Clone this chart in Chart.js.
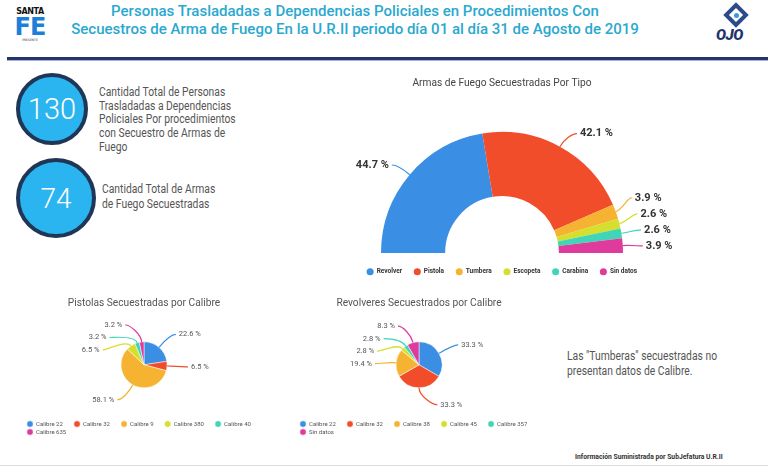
<!DOCTYPE html>
<html lang="es">
<head>
<meta charset="utf-8">
<title>Armas de Fuego Secuestradas - U.R.II Agosto 2019</title>
<script src="https://cdn.jsdelivr.net/npm/chart.js@4.4.0/dist/chart.umd.min.js"></script>
<style>
  body { margin: 0; width: 768px; height: 467px; background: #fff; position: relative; overflow: hidden; font-family: Roboto, sans-serif; }
  .abs { position: absolute; }
  canvas { position: absolute; }
  .title { left: 0; top: 2px; width: 710px; text-align: center; color: #2aa8cf; font-size: 15px; font-weight: 500; line-height: 18px; }
  .bubble { box-sizing: border-box; border-radius: 50%; background: #2ab4f0; border: 4px solid #1f3656; color: #fff; font-weight: 300; display: flex; align-items: center; justify-content: center; }
  .desc { color: #555; font-size: 12px; line-height: 13.7px; white-space: nowrap; transform: scaleX(0.86); transform-origin: left top; }
</style>
</head>
<body>
<!-- header -->
<div class="abs" style="left:14px;top:7px;width:32px;text-align:center;font-family:'DejaVu Sans';">
  <div style="font-size:8px;font-weight:bold;color:#111;letter-spacing:-0.4px;line-height:9px;">SANTA</div>
  <div style="font-size:24px;font-weight:bold;color:#1e7fd8;line-height:22px;letter-spacing:-1px;">FE</div>
  <div style="font-size:3px;color:#333;line-height:5px;">PRESENTE</div>
</div>
<div class="abs title">Personas Trasladadas a Dependencias Policiales en Procedimientos Con<br>Secuestros de Arma de Fuego En la U.R.II periodo día 01 al día 31 de Agosto de 2019</div>
<div class="abs" style="left:727px;top:6px;width:18px;height:18px;transform:rotate(45deg);border:4px solid #2c4a8a;box-sizing:border-box;"></div>
<div class="abs" style="left:734px;top:13px;width:5px;height:5px;border-radius:50%;background:#3c9be0;"></div>
<div class="abs" style="left:716px;top:26px;font-size:15px;font-weight:900;font-style:italic;color:#1f3470;letter-spacing:-0.5px;">OJO</div>
<div class="abs" style="left:7px;top:57px;width:761px;height:3px;background:#26346a;"></div>
<div class="abs" style="left:7px;top:60px;width:761px;height:1px;background:#aab0d8;"></div>

<!-- totals -->
<div class="abs bubble" style="left:16px;top:73px;width:72px;height:72px;font-size:29px;">130</div>
<div class="abs desc" style="left:99px;top:86px;">Cantidad Total de Personas<br>Trasladadas a Dependencias<br>Policiales Por procedimientos<br>con Secuestro de Armas de<br>Fuego</div>
<div class="abs bubble" style="left:16px;top:158px;width:80px;height:80px;font-size:28px;">74</div>
<div class="abs desc" style="left:102px;top:182px;line-height:15px;">Cantidad Total de Armas<br>de Fuego Secuestradas</div>

<canvas id="tipo-chart" width="364" height="219" style="left:320px;top:66px;"></canvas>
<canvas id="pistola-chart" width="254" height="157" style="left:17px;top:288px;"></canvas>
<canvas id="revolver-chart" width="258" height="157" style="left:290px;top:288px;"></canvas>

<div class="abs desc" style="left:567px;top:349px;line-height:14.5px;">Las "Tumberas" secuestradas no<br>presentan datos de Calibre.</div>
<div class="abs" style="left:575px;top:452px;font-size:7.5px;font-weight:bold;color:#333;white-space:nowrap;transform:scaleX(0.9);transform-origin:left top;">Información Suministrada por SubJefatura U.R.II</div>
<div class="abs" style="left:0;top:465px;width:768px;height:1px;background:#ddd;"></div>

<script>
// Armas de fuego secuestradas por tipo (%)
const tipoLabels = ["Revolver", "Pistola", "Tumbera", "Escopeta", "Carabina", "Sin datos"];
const tipoValues = [44.7, 42.1, 3.9, 2.6, 2.6, 3.9];

// Pistolas por calibre (%)
const pistolaLabels = ["Calibre 22", "Calibre 32", "Calibre 9", "Calibre 380", "Calibre 40", "Calibre 635"];
const pistolaValues = [22.6, 6.5, 58.1, 6.5, 3.2, 3.2];

// Revolveres por calibre (%)
const revolverLabels = ["Calibre 22", "Calibre 32", "Calibre 38", "Calibre 45", "Calibre 357", "Sin datos"];
const revolverValues = [33.3, 33.3, 19.4, 2.8, 2.8, 8.3];

const colors = ["#3a8ee4", "#f14d2b", "#f5b331", "#d6de2e", "#3fd5b6", "#de3b9d"];

// labels outside the slices with curved leader lines
const outLabels = {
  id: "outLabels",
  afterDatasetsDraw(chart, args, opts) {
    const ctx = chart.ctx;
    const ds = chart.data.datasets[0];
    const left = [];
    const right = [];
    chart.getDatasetMeta(0).data.forEach((arc, i) => {
      const p = arc.getProps(["x", "y", "startAngle", "endAngle", "outerRadius"], true);
      const a = (p.startAngle + p.endAngle) / 2;
      const item = { i, a, cx: p.x, cy: p.y, r: p.outerRadius, y: p.y + (p.outerRadius + opts.yOff) * Math.sin(a) };
      (Math.cos(a) < 0 ? left : right).push(item);
    });

    ctx.save();
    ctx.font = opts.font;
    ctx.textBaseline = "middle";
    [left, right].forEach((side, s) => {
      side.sort((m, n) => m.y - n.y);
      for (let k = 1; k < side.length; k++) {
        side[k].y = Math.max(side[k].y, side[k - 1].y + opts.gap);
      }
      const n = side.length;
      if (n && opts.maxDy != null) {
        const maxY = side[n - 1].cy + opts.maxDy;
        if (side[n - 1].y > maxY) {
          side[n - 1].y = maxY;
          for (let k = n - 2; k >= 0; k--) {
            side[k].y = Math.min(side[k].y, side[k + 1].y - opts.gap);
          }
        }
      }
      const dir = s === 0 ? -1 : 1;
      side.forEach((it) => {
        const D = it.r + opts.xOff;
        const dy = it.y - it.cy;
        const ex = it.cx + dir * Math.sqrt(Math.max(D * D - dy * dy, 0));
        const sx = it.cx + it.r * Math.cos(it.a);
        const sy = it.cy + it.r * Math.sin(it.a);
        const c1x = it.cx + (it.r + opts.bend) * Math.cos(it.a);
        const c1y = it.cy + (it.r + opts.bend) * Math.sin(it.a);
        ctx.strokeStyle = ds.backgroundColor[it.i];
        ctx.lineWidth = 1.2;
        ctx.beginPath();
        ctx.moveTo(sx, sy);
        ctx.bezierCurveTo(c1x, c1y, ex - dir * 5, it.y, ex, it.y);
        ctx.stroke();
        ctx.fillStyle = opts.color;
        ctx.textAlign = s === 0 ? "right" : "left";
        ctx.fillText(ds.data[it.i].toFixed(1) + " %", ex + dir * 3, it.y);
      });
    });
    ctx.restore();
  },
};

// legend text with some trailing room so items spread like the original
const spacedLabels = (chart) =>
  Chart.overrides.doughnut.plugins.legend.labels
    .generateLabels(chart)
    .map((l) => ({ ...l, text: l.text + "\u2002\u2002\u2002" }));

new Chart(document.getElementById("tipo-chart"), {
  type: "doughnut",
  data: {
    labels: tipoLabels,
    datasets: [{ data: tipoValues, backgroundColor: colors, borderWidth: 0, clip: false }],
  },
  options: {
    responsive: false,
    animation: false,
    rotation: -90,
    circumference: 180,
    radius: 121,
    cutout: "47%",
    plugins: {
      title: {
        display: true,
        text: "Armas de Fuego Secuestradas Por Tipo",
        color: "#444",
        font: { family: "Roboto", size: 10.2, weight: "normal" },
        padding: { top: 11.6, bottom: 38.6 },
      },
      legend: {
        position: "bottom",
        labels: {
          usePointStyle: true,
          pointStyle: "circle",
          boxHeight: 5,
          padding: 12,
          color: "#333",
          font: { family: "Roboto", size: 6.5, weight: "bold" },
        },
      },
      tooltip: { enabled: false },
      outLabels: { font: "bold 11px Roboto", color: "#333", yOff: 15, xOff: 20, bend: 8, gap: 16, maxDy: -7 },
    },
  },
  plugins: [outLabels],
});

function calibrePie(id, title, labels, values) {
  return new Chart(document.getElementById(id), {
    type: "pie",
    data: {
      labels: labels,
      datasets: [{ data: values, backgroundColor: colors, borderWidth: 0.5, borderColor: "#fff", clip: false }],
    },
    options: {
      responsive: false,
      animation: false,
      radius: 23,
      layout: { padding: { left: 8, right: 8 } },
      plugins: {
        title: {
          display: true,
          text: title,
          color: "#555",
          font: { family: "Roboto", size: 10.2, weight: "normal" },
          padding: { top: 9.6, bottom: 0.8 },
        },
        legend: {
          position: "bottom",
          align: "start",
          labels: {
            usePointStyle: true,
            pointStyle: "circle",
            boxHeight: 4.5,
            padding: 2,
            color: "#555",
            font: { family: "Roboto", size: 6 },
            generateLabels: spacedLabels,
          },
        },
        tooltip: { enabled: false },
        outLabels: { font: "7.5px Roboto", color: "#555", yOff: 17, xOff: 21, bend: 8, gap: 12.5 },
      },
    },
    plugins: [outLabels],
  });
}

calibrePie("pistola-chart", "Pistolas Secuestradas por Calibre", pistolaLabels, pistolaValues);
calibrePie("revolver-chart", "Revolveres Secuestrados por Calibre", revolverLabels, revolverValues);
</script>
</body>
</html>
